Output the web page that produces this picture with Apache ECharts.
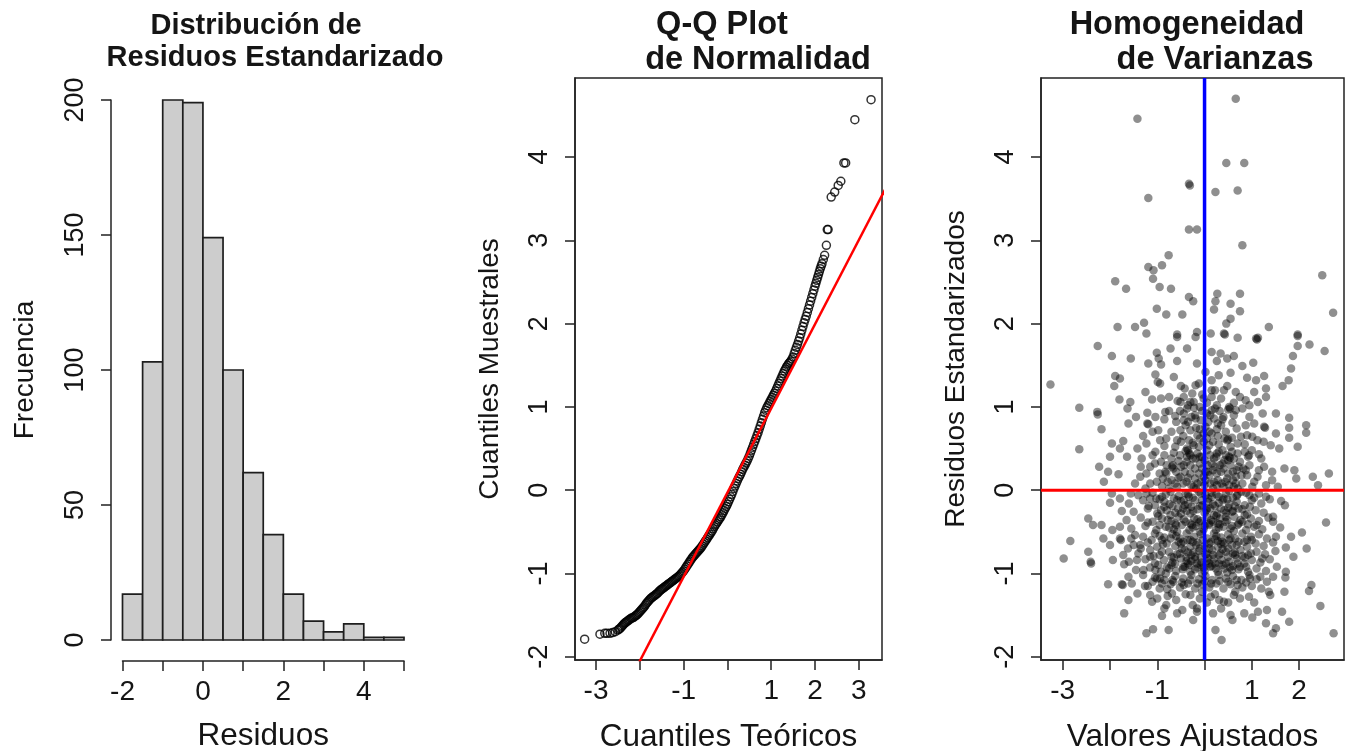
<!DOCTYPE html>
<html><head><meta charset="utf-8">
<script src="https://cdn.jsdelivr.net/npm/echarts@6.0.0/dist/echarts.min.js"></script>
<style>html,body{margin:0;padding:0;background:#fff}#c{width:1347px;height:751px}</style>
</head><body><div id="c"></div>
<script>
// ---------- DATA ----------
const histBreaks = [-2,-1.5,-1,-0.5,0,0.5,1,1.5,2,2.5,3,3.5,4,4.5,5];
const histCounts = [17,103,200,199,149,100,62,39,17,7,3,6,1,1];
const histXTicks = [-2,-1,0,1,2,3,4,5];
const histXLabels = [-2,0,2,4];
const histYTicks = [0,50,100,150,200];

const qqXTicks = [-3,-2,-1,0,1,2,3];
const qqXLabels = [-3,-1,1,2,3];
const residTicks = [-2,-1,0,1,2,3,4];
const fitXTicks = [-3,-2,-1,0,1,2];
const fitXLabels = [-3,-1,1,2];

// [theoretical quantile, sample quantile] read along the Q-Q band
const qqPoints = [
[-3.26,-1.79],[-2.91,-1.73],[-2.80,-1.72],[-2.75,-1.72],[-2.68,-1.72],[-2.62,-1.71],[-2.56,-1.70],
[-2.50,-1.68],[-2.475,-1.67],[-2.45,-1.66],[-2.425,-1.645],[-2.40,-1.63],[-2.375,-1.615],[-2.35,-1.60],[-2.325,-1.59],
[-2.30,-1.58],[-2.275,-1.57],[-2.25,-1.56],[-2.225,-1.55],[-2.20,-1.54],[-2.175,-1.535],[-2.15,-1.53],[-2.125,-1.52],
[-2.10,-1.51],[-2.075,-1.50],[-2.05,-1.49],[-2.025,-1.475],[-2.00,-1.46],[-1.975,-1.445],[-1.95,-1.43],[-1.925,-1.415],
[-1.90,-1.40],[-1.875,-1.38],[-1.85,-1.36],[-1.825,-1.345],[-1.80,-1.33],[-1.775,-1.315],[-1.75,-1.30],[-1.725,-1.29],
[-1.70,-1.28],[-1.675,-1.27],[-1.65,-1.26],[-1.625,-1.25],[-1.60,-1.24],[-1.575,-1.225],[-1.55,-1.21],[-1.525,-1.20],
[-1.50,-1.19],[-1.475,-1.18],[-1.45,-1.17],[-1.425,-1.16],[-1.40,-1.15],[-1.375,-1.14],[-1.35,-1.13],[-1.325,-1.12],
[-1.30,-1.11],[-1.275,-1.10],[-1.25,-1.09],[-1.225,-1.08],[-1.20,-1.07],[-1.175,-1.06],[-1.15,-1.05],[-1.125,-1.04],
[-1.10,-1.03],[-1.075,-1.015],[-1.05,-1.00],[-1.025,-0.985],[-1.00,-0.97],[-0.975,-0.95],[-0.95,-0.93],[-0.925,-0.91],
[-0.90,-0.89],[-0.875,-0.87],[-0.85,-0.85],[-0.825,-0.83],[-0.80,-0.81],[-0.775,-0.795],[-0.75,-0.78],[-0.725,-0.765],
[-0.70,-0.75],[-0.675,-0.735],[-0.65,-0.72],[-0.625,-0.705],[-0.60,-0.69],[-0.575,-0.67],[-0.55,-0.65],[-0.525,-0.63],
[-0.50,-0.61],[-0.475,-0.59],[-0.45,-0.57],[-0.425,-0.55],[-0.40,-0.53],[-0.375,-0.51],[-0.35,-0.49],[-0.325,-0.465],
[-0.30,-0.44],[-0.275,-0.42],[-0.25,-0.40],[-0.225,-0.38],[-0.20,-0.36],[-0.175,-0.34],[-0.15,-0.32],[-0.125,-0.295],
[-0.10,-0.27],[-0.075,-0.245],[-0.05,-0.22],[-0.025,-0.195],[0.00,-0.17],[0.025,-0.14],[0.05,-0.11],[0.075,-0.08],
[0.10,-0.05],[0.125,-0.015],[0.15,0.02],[0.175,0.05],[0.20,0.08],[0.225,0.11],[0.25,0.14],[0.275,0.165],
[0.30,0.19],[0.325,0.22],[0.35,0.25],[0.375,0.275],[0.40,0.30],[0.425,0.325],[0.45,0.35],[0.475,0.38],
[0.50,0.41],[0.525,0.445],[0.55,0.48],[0.575,0.515],[0.60,0.55],[0.625,0.585],[0.65,0.62],[0.675,0.655],
[0.70,0.69],[0.725,0.73],[0.75,0.77],[0.775,0.81],[0.80,0.85],[0.825,0.89],[0.85,0.93],[0.875,0.96],
[0.90,0.99],[0.925,1.015],[0.95,1.04],[0.975,1.065],[1.00,1.09],[1.025,1.115],[1.05,1.14],[1.075,1.165],
[1.10,1.19],[1.125,1.22],[1.15,1.25],[1.175,1.28],[1.20,1.31],[1.225,1.34],[1.25,1.37],[1.275,1.40],
[1.30,1.43],[1.325,1.455],[1.35,1.48],[1.375,1.50],[1.40,1.52],[1.425,1.535],[1.45,1.55],[1.475,1.575],
[1.50,1.60],[1.525,1.64],[1.55,1.68],[1.575,1.715],[1.60,1.75],[1.625,1.79],[1.65,1.83],[1.675,1.875],
[1.70,1.92],[1.725,1.965],[1.75,2.01],[1.775,2.05],[1.80,2.09],[1.825,2.135],[1.85,2.18],[1.875,2.225],
[1.90,2.27],[1.925,2.315],[1.95,2.36],[1.975,2.405],[2.00,2.45],[2.02,2.485],[2.04,2.52],[2.06,2.555],
[2.08,2.59],[2.10,2.625],[2.12,2.66],[2.14,2.69],[2.16,2.72],[2.19,2.77],[2.22,2.82],
[2.26,2.94],[2.28,3.13],[2.30,3.13],[2.37,3.52],[2.45,3.58],[2.53,3.66],[2.59,3.71],[2.66,3.93],
[2.70,3.93],[2.91,4.45],[3.28,4.69]
];
// reference line (qqline) end points
const qqLine = [[-3.6,-3.67],[3.6,3.61]];

// [fitted value, standardized residual]
const scatterPoints = [
[-1.42,4.46],[-0.33,3.68],[-0.31,3.66],[-1.19,3.51],[-0.33,3.13],[-0.16,3.13],[-0.76,2.82],[-1.19,2.68],[-1.08,2.64],[-0.90,2.70],
[-1.89,2.51],[-1.66,2.42],[-1.09,2.54],[-0.95,2.44],[-0.71,2.42],[-0.33,2.32],[-0.24,2.27],[-1.01,2.18],[-0.81,2.11],[-0.47,2.11],
[-1.84,1.96],[-1.47,1.96],[-1.28,2.01],[-1.23,1.88],[-0.16,1.90],[-0.58,1.87],
[0.66,4.70],[0.46,3.93],[0.84,3.93],[0.23,3.58],[0.70,3.60],[0.80,2.94],[2.49,2.58],[0.27,2.36],[0.75,2.36],[0.23,2.27],
[0.55,2.24],[0.20,2.17],[0.75,2.15],[2.72,2.13],[0.55,2.06],[0.46,2.00],[1.36,1.96],[0.41,1.88],[1.97,1.87],[0.13,1.88],
[-3.26,1.27],[-2.26,1.73],[-1.96,1.61],[-1.56,1.58],[-0.58,1.84],[-0.19,1.84],[-0.72,1.70],[-0.37,1.70],[-1.01,1.65],[-0.97,1.58],
[-1.19,1.52],[-0.92,1.51],[-0.58,1.55],[-0.16,1.52],[-1.89,1.37],[-1.79,1.34],[-1.04,1.39],[-0.94,1.28],[-0.99,1.30],[-1.91,1.25],
[-0.65,1.36],[-0.42,1.22],[-0.19,1.26],[-1.80,1.09],[-1.57,1.06],[-1.63,0.98],[-1.11,1.09],[-0.92,1.10],[-0.57,1.07],[-0.44,1.12],
[-2.65,0.99],[-2.27,0.94],[-2.26,0.91],[-1.21,0.93],[-1.04,0.88],[-0.83,0.94],[-0.62,0.89],[-0.37,0.98],[-0.23,1.06],[-1.61,0.80],
[-1.21,0.80],[-1.19,0.79],[-0.85,0.85],[-0.44,0.84],[-0.19,0.86],[-2.18,0.73],[-1.96,0.56],[-1.72,0.59],[-1.79,0.50],[-2.65,0.49],
[-1.23,0.56],[-1.42,0.50],[-0.94,0.60],[-0.81,0.62],[-0.58,0.60],[-0.37,0.50],[-0.35,0.48],[-0.23,0.54],[-0.51,0.72],[-0.30,0.72],
[-0.26,1.16],[-0.30,1.06],[-0.51,1.06],[-0.44,0.92],[-1.04,0.46],[-2.00,0.40],[-1.64,0.40],[-2.23,0.28],[-2.04,0.22],[-1.82,0.19],
[-2.13,0.10],[-1.33,0.38],[-1.15,0.28],[-1.36,0.16],[-1.47,0.08],[-0.92,0.34],[-0.83,0.22],[-0.81,0.20],[-0.69,0.28],[-0.67,0.30],
[-0.51,0.16],[-0.30,0.20],[-1.01,0.10],[-0.58,0.04],[-0.23,0.04],[-1.15,0.08],[-0.37,0.40],[-0.19,0.38],[-1.23,0.20],
[0.43,1.87],[0.70,1.83],[1.09,1.82],[1.13,1.83],[1.11,1.81],[1.97,1.85],[2.22,1.75],[2.54,1.67],[1.97,1.73],[0.15,1.66],
[0.34,1.64],[0.48,1.58],[0.62,1.61],[0.26,1.55],[0.80,1.49],[1.03,1.53],[1.87,1.61],[1.83,1.46],[0.55,1.41],[1.09,1.32],
[1.26,1.37],[1.78,1.32],[1.65,1.25],[0.15,1.32],[0.41,1.20],[0.66,1.18],[1.05,1.18],[1.30,1.22],[1.30,1.12],[0.87,1.08],
[1.13,1.06],[0.52,1.00],[0.54,0.98],[0.66,0.96],[0.80,0.98],[0.26,1.02],[0.15,1.12],[0.15,1.20],[1.23,0.92],[1.51,0.92],
[1.79,0.87],[2.15,0.78],[2.15,0.69],[1.79,0.75],[1.79,0.63],[1.51,0.68],[1.28,0.75],[1.26,0.76],[0.87,0.78],[0.59,0.81],
[0.38,0.85],[0.26,0.73],[1.01,0.64],[0.77,0.64],[0.48,0.60],[0.50,0.61],[1.40,0.54],[1.58,0.50],[1.97,0.52],[0.94,0.42],
[1.15,0.43],[0.52,0.40],[0.54,0.39],[0.26,0.44],[1.26,0.28],[1.43,0.22],[1.69,0.26],[1.90,0.24],[2.29,0.16],[2.63,0.20],
[1.94,0.14],[2.40,0.06],[0.87,0.24],[0.66,0.16],[0.26,0.20],[0.38,0.32],[1.43,0.12],[1.12,0.16],[0.70,0.02],[1.01,0.04],
[0.12,0.08],[0.12,0.90],[-0.10,1.00],[-0.10,0.73],[-0.10,0.40],
[-2.46,-0.34],[-2.36,-0.42],[-2.18,-0.42],[-2.84,-0.61],[-2.14,-0.58],[-1.79,-0.44],[-1.79,-0.58],[-1.77,-0.60],[-1.79,-0.10],[-1.96,-0.04],
[-1.56,-0.04],[-1.23,-0.04],[-2.98,-0.82],[-2.46,-0.74],[-2.41,-0.86],[-2.40,-0.88],[-1.94,-0.84],[-1.70,-0.89],[-2.04,-1.13],[-1.75,-1.13],
[-1.73,-1.14],[-1.61,-1.04],[-1.54,-1.12],[-1.61,-1.32],[-1.42,-1.24],[-1.26,-1.15],[-1.15,-1.26],[-1.11,-1.34],[-1.70,-1.48],[-1.23,-1.72],
[-1.09,-1.67],[-0.76,-1.68],[-0.90,-1.51],[-0.81,-1.38],[-0.58,-1.48],[-0.47,-1.44],[-0.24,-1.56],[-0.16,-1.42],[-0.30,-1.26],[-0.69,-1.24],
[-0.79,-1.19],[-0.94,-1.06],[-0.66,-1.10],[-0.44,-1.14],[-1.72,-0.78],[-1.62,-0.70],[-1.47,-0.54],[-1.36,-0.66],[-1.43,-0.84],[-1.29,-0.96],
[-1.15,-0.80],[-1.04,-0.96],[-1.01,-1.06],
[2.57,-0.39],[2.06,-0.51],[1.83,-0.56],[2.16,-0.70],[1.88,-0.80],[1.72,-0.69],[1.51,-0.56],[1.45,-0.38],[1.45,-0.32],[1.62,-0.13],
[1.38,-0.11],[2.26,-1.14],[2.21,-1.21],[2.45,-1.39],[2.73,-1.72],[1.71,-1.05],[1.69,-1.22],[1.36,-1.22],[1.39,-1.26],[0.94,-1.28],
[0.62,-1.26],[0.41,-1.34],[0.13,-1.28],[1.64,-1.46],[1.79,-1.58],[1.30,-1.60],[1.13,-1.46],[1.32,-1.44],[0.84,-1.48],[1.01,-1.53],
[1.51,-1.66],[1.45,-1.72],[0.55,-1.50],[0.59,-1.56],[0.23,-1.68],[0.36,-1.80],[1.72,-0.98],[1.53,-0.92],[1.18,-1.04],[1.32,-1.10],
[0.96,-1.06],[0.70,-1.14],[0.31,-1.32],[-0.16,-1.46],
[-0.05,0.95],[0.08,0.82],[-0.15,0.66],[0.18,0.58],[-0.28,0.88],[0.32,0.95],[-0.62,0.52],[0.45,0.70],[-0.12,0.52],[0.05,0.62],
[0.22,0.98],[-0.40,0.78],[0.62,0.90],[-0.70,0.70],[0.95,0.88],[-0.98,0.72],[1.12,0.60],[0.30,0.55],[-0.22,0.99],[0.55,0.52],
[-1.30,0.65],[0.02,0.76],[-0.52,0.95],[0.70,0.56],[-0.85,0.53],[0.40,0.88],[0.15,0.68],[-0.33,0.60],[1.25,0.58],[-0.08,0.84],
[0.85,0.55],[-1.10,0.70],[0.20,0.86],[-0.60,0.82],[0.50,0.97],[-0.18,0.75],[1.05,0.80],[0.10,0.54],[-0.45,0.65],[0.35,0.78],
[-0.02,0.58],[0.68,0.74],[-0.75,0.95],[0.28,0.65],[-1.45,0.88],[0.90,0.66],[-0.25,0.57],[0.58,0.63],
[-0.90,0.05],[-0.70,0.12],[-0.45,0.08],[-0.20,0.14],[0.00,0.06],[0.20,0.10],[0.40,0.04],[0.60,0.12],[0.80,0.08],[1.05,0.10],
[-0.80,0.30],[-0.55,0.35],[-0.30,0.30],[-0.05,0.26],[0.15,0.32],[0.35,0.22],[0.55,0.30],[0.75,0.34],[0.95,0.30],[1.20,0.38],
[-1.10,0.42],[-0.65,0.45],[-0.40,0.47],[-0.15,0.44],[0.05,0.48],[0.30,0.46],[0.45,0.42],[0.70,0.44],[1.00,0.48],[-1.25,0.02],
[-0.95,0.20],[-0.60,0.22],[-0.35,0.15],[-0.12,0.20],[0.10,0.18],[0.28,0.12],[0.50,0.20],[0.68,0.24],[0.90,0.18],[1.30,0.06],
[-0.75,0.02],[-0.50,0.28],[-0.25,0.38],[0.00,0.36],[0.22,0.28],[0.42,0.36],[0.62,0.04],[0.85,0.46],[1.15,0.24],[-1.05,0.32],
[-0.85,0.42],[-0.42,0.22],[-0.08,0.10],[0.12,0.42],[0.36,0.08],[0.58,0.46],[0.78,0.18],[-0.62,0.08],[-0.28,0.06],[0.06,0.30],
[0.25,0.40],[0.48,0.14],[0.72,0.28],[-0.18,0.02],[-0.52,0.42],[0.32,0.30],[-0.02,0.16],[0.18,0.02],[-0.38,0.34],[0.52,0.06],
[-0.88,0.14],[0.92,0.40],[-0.70,0.38],[0.38,0.48],[-0.10,0.32],[0.62,0.38],[-1.35,0.28],[1.55,0.04],[-0.32,0.44],[0.08,0.22],
[-1.40,-0.06],[-1.10,-0.03],[-0.90,-0.08],[-0.72,-0.02],[-0.55,-0.07],[-0.40,-0.04],[-0.25,-0.09],[-0.12,-0.02],[0.02,-0.06],[0.15,-0.03],
[0.30,-0.08],[0.45,-0.04],[0.60,-0.09],[0.78,-0.02],[0.95,-0.06],[1.15,-0.04],[1.30,-0.08],[-0.65,-0.10],[0.52,-0.01],
[-1.60,-0.16],[-1.30,-0.12],[-1.05,-0.18],[-0.85,-0.14],[-0.68,-0.19],[-0.50,-0.13],[-0.35,-0.17],[-0.20,-0.12],[-0.05,-0.18],[0.08,-0.14],
[0.22,-0.19],[0.38,-0.12],[0.52,-0.17],[0.68,-0.14],[0.85,-0.18],[1.00,-0.12],[1.20,-0.16],[-0.95,-0.11],[0.30,-0.15],[-0.28,-0.20],
[1.70,-0.18],[-2.00,-0.15],
[-1.50,-0.26],[-1.20,-0.22],[-1.00,-0.28],[-0.80,-0.24],[-0.62,-0.27],[-0.45,-0.22],[-0.30,-0.28],[-0.15,-0.23],[0.00,-0.27],[0.12,-0.22],
[0.27,-0.28],[0.42,-0.24],[0.58,-0.26],[0.72,-0.22],[0.90,-0.29],[1.08,-0.24],[1.25,-0.27],[-0.72,-0.30],[0.20,-0.30],[-0.38,-0.25],
[0.50,-0.21],[-1.75,-0.25],
[-1.65,-0.36],[-1.35,-0.33],[-1.10,-0.38],[-0.90,-0.34],[-0.70,-0.37],[-0.55,-0.32],[-0.40,-0.38],[-0.22,-0.34],[-0.08,-0.37],[0.05,-0.32],
[0.18,-0.38],[0.33,-0.34],[0.48,-0.36],[0.63,-0.32],[0.80,-0.38],[0.98,-0.34],[1.15,-0.37],[1.35,-0.33],[-0.30,-0.40],[0.25,-0.31],
[-0.98,-0.31],[0.72,-0.40],
[-1.55,-0.46],[-1.25,-0.43],[-1.02,-0.48],[-0.82,-0.44],[-0.65,-0.47],[-0.48,-0.42],[-0.32,-0.48],[-0.18,-0.43],[-0.02,-0.47],[0.10,-0.42],
[0.24,-0.48],[0.40,-0.44],[0.55,-0.46],[0.70,-0.42],[0.88,-0.48],[1.05,-0.44],[1.22,-0.47],[1.60,-0.45],[-0.58,-0.50],[0.32,-0.41],
[-0.10,-0.50],[0.62,-0.49],[-1.95,-0.48],
[-0.44,-0.12],[0.10,-0.40],[-0.60,-0.42],[0.40,-0.10],[-0.15,-0.35],[0.60,-0.25],[-0.85,-0.20],[0.15,-0.08],[-0.25,-0.45],[0.85,-0.30],
[-0.50,-0.28],[0.30,-0.45],[-1.15,-0.10],[1.10,-0.42],[-0.05,-0.12],[0.45,-0.32],[-0.75,-0.45],[0.05,-0.22],[-0.35,-0.05],[0.70,-0.05],
[-1.30,-0.56],[-1.05,-0.52],[-0.85,-0.57],[-0.68,-0.53],[-0.52,-0.58],[-0.38,-0.52],[-0.22,-0.56],[-0.08,-0.53],[0.06,-0.58],[0.20,-0.52],
[0.35,-0.57],[0.50,-0.53],[0.65,-0.58],[0.80,-0.52],[0.98,-0.56],[1.15,-0.53],[1.32,-0.58],[-1.55,-0.58],[-0.30,-0.60],[0.28,-0.61],
[-1.50,-0.66],[-1.20,-0.63],[-1.00,-0.68],[-0.80,-0.64],[-0.62,-0.67],[-0.45,-0.62],[-0.30,-0.68],[-0.15,-0.63],[0.00,-0.67],[0.14,-0.62],
[0.28,-0.68],[0.42,-0.64],[0.58,-0.66],[0.72,-0.62],[0.90,-0.68],[1.08,-0.64],[1.25,-0.67],[1.45,-0.63],[-0.90,-0.60],[0.50,-0.70],
[-2.00,-0.66],
[-1.40,-0.76],[-1.15,-0.72],[-0.95,-0.78],[-0.75,-0.74],[-0.58,-0.77],[-0.42,-0.72],[-0.28,-0.78],[-0.12,-0.73],[0.02,-0.77],[0.16,-0.72],
[0.30,-0.78],[0.45,-0.74],[0.60,-0.76],[0.76,-0.72],[0.92,-0.78],[1.10,-0.74],[1.28,-0.77],[1.50,-0.73],[-0.20,-0.80],[0.38,-0.71],
[-0.65,-0.81],[0.85,-0.81],
[-1.60,-0.86],[-1.25,-0.83],[-1.05,-0.88],[-0.86,-0.84],[-0.68,-0.87],[-0.50,-0.82],[-0.35,-0.88],[-0.20,-0.83],[-0.06,-0.87],[0.08,-0.82],
[0.22,-0.88],[0.36,-0.84],[0.52,-0.86],[0.68,-0.82],[0.84,-0.88],[1.00,-0.84],[1.18,-0.87],[1.38,-0.83],[-0.42,-0.92],[0.15,-0.91],
[-0.28,-0.85],[0.60,-0.91],
[-1.45,-0.96],[-1.15,-0.93],[-0.92,-0.98],[-0.75,-0.94],[-0.60,-0.97],[-0.45,-0.92],[-0.30,-0.98],[-0.15,-0.93],[0.00,-0.97],[0.12,-0.92],
[0.28,-0.98],[0.42,-0.94],[0.58,-0.96],[0.75,-0.92],[0.92,-0.98],[1.10,-0.94],[1.30,-0.97],[-0.05,-1.00],[0.48,-0.99],[-0.82,-1.00],
[-0.55,-0.62],[0.25,-0.55],[-0.10,-0.70],[0.65,-0.78],[-0.95,-0.55],[0.45,-0.88],[-0.35,-0.75],[0.05,-0.85],[-0.70,-0.90],[0.90,-0.60],
[-0.20,-0.95],[0.35,-0.65],[-0.48,-0.70],[0.18,-0.78],[1.22,-0.82],[-1.35,-0.70],[0.72,-0.95],[-0.25,-0.62],[0.55,-0.58],[-0.08,-0.90],
[-0.60,-0.55],[0.10,-0.70],[-0.38,-0.85],[0.30,-0.88],
[-1.30,-1.02],[-1.05,-1.05],[-0.85,-1.08],[-0.62,-1.03],[-0.45,-1.06],[-0.28,-1.02],[-0.12,-1.07],[0.02,-1.03],[0.16,-1.08],[0.30,-1.02],
[0.45,-1.06],[0.60,-1.03],[0.78,-1.08],[0.95,-1.02],[1.10,-1.07],[1.45,-1.04],[-1.20,-1.15],[-0.95,-1.18],[-0.72,-1.13],[-0.52,-1.17],
[-0.35,-1.12],[-0.20,-1.18],[-0.05,-1.13],[0.10,-1.17],[0.25,-1.12],[0.40,-1.18],[0.55,-1.13],[0.80,-1.17],[1.00,-1.15],[1.20,-1.18],
[-1.00,-1.30],[-0.60,-1.32],[-0.40,-1.25],[-0.10,-1.30],[0.05,-1.35],[0.22,-1.25],[0.50,-1.35],[0.75,-1.30],[1.05,-1.35],[-0.25,-1.38],
[0.35,-1.42],[-0.85,-1.42],[0.18,-1.48],[-0.05,-1.22],[-0.78,-1.27],[0.65,-1.22],
[-0.05,1.15],[0.05,1.05],[-0.35,1.02],[0.35,1.10],[0.62,1.05],[0.75,1.12],[0.95,1.02],[-0.12,1.28],[0.30,1.38],[-0.50,1.25],
[0.48,1.25],[-0.75,1.12],[0.02,1.42],[-1.25,1.18],[0.90,1.35],[-0.02,1.10],[0.22,1.20],
[-1.02,-0.10],[-0.82,-0.05],[-0.58,-0.12],[-0.33,-0.08],[-0.08,-0.04],[0.08,-0.10],[0.25,-0.05],[0.48,-0.11],[0.68,-0.07],[0.88,-0.03],[1.05,-0.09],
[-1.18,-0.19],[-0.92,-0.24],[-0.74,-0.17],[-0.56,-0.22],[-0.42,-0.18],[-0.24,-0.25],[-0.10,-0.19],[0.04,-0.24],[0.18,-0.17],[0.34,-0.22],
[0.46,-0.27],[0.64,-0.19],[0.80,-0.23],[0.96,-0.20],
[-1.20,-0.39],[-0.95,-0.42],[-0.78,-0.36],[-0.62,-0.40],[-0.44,-0.35],[-0.27,-0.42],[-0.12,-0.39],[0.00,-0.43],[0.14,-0.36],[0.28,-0.40],
[0.44,-0.38],[0.58,-0.43],[0.76,-0.36],[0.92,-0.41],
[-1.12,-0.60],[-0.88,-0.65],[-0.72,-0.58],[-0.50,-0.64],[-0.36,-0.60],[-0.18,-0.66],[-0.04,-0.60],[0.10,-0.64],[0.22,-0.59],[0.38,-0.62],
[0.52,-0.60],[0.68,-0.66],[0.84,-0.62],[1.00,-0.60],
[-1.08,-0.79],[-0.90,-0.74],[-0.70,-0.80],[-0.52,-0.76],[-0.38,-0.81],[-0.24,-0.75],[-0.08,-0.80],[0.06,-0.76],[0.20,-0.82],[0.34,-0.76],
[0.50,-0.80],[0.64,-0.75],[0.80,-0.79],[0.98,-0.76],
[-0.98,-0.90],[-0.80,-0.93],[-0.62,-0.88],[-0.46,-0.95],[-0.32,-0.90],[-0.16,-0.88],[-0.02,-0.93],[0.10,-0.88],[0.24,-0.94],[0.38,-0.90],
[0.54,-0.93],[0.70,-0.88],[0.88,-0.92],
[-1.10,-1.10],[-0.90,-1.12],[-0.68,-1.08],[-0.48,-1.11],[-0.30,-1.08],[-0.15,-1.12],[0.00,-1.09],[0.14,-1.12],[0.32,-1.09],[0.50,-1.10],
[0.68,-1.08],[0.88,-1.11],
[-0.78,0.10],[-0.55,0.15],[-0.38,0.10],[-0.15,0.08],[0.02,0.12],[0.26,0.06],[0.44,0.10],[0.66,0.08],[-0.66,0.26],[-0.44,0.30],
[-0.20,0.26],[0.02,0.22],[0.18,0.24],[0.40,0.26],[0.60,0.22],[0.82,0.26],[-0.30,0.42],[-0.06,0.40],[0.20,0.38],[0.50,0.36],
[-0.35,0.82],[-0.10,0.62],[0.10,0.70],[0.28,0.80],[-0.20,0.90],[0.05,0.92],[0.42,0.62],[-0.50,0.58],[0.15,0.96],[-0.02,0.68]
];
const hLineY = 0;   // red horizontal reference
const vLineX = 0;   // blue vertical reference

// ---------- STYLE ----------
const FONT = "'Liberation Sans', Arial, Helvetica, sans-serif";
const TXT = '#151515';
const AX = '#222';

function xAxisCfg(gridIndex, min, max, ticks, labels, name, nameGap, offset) {
  return {
    type: 'value', gridIndex, min, max, offset: offset || 0,
    name, nameLocation: 'middle', nameGap,
    nameTextStyle: {fontFamily: FONT, fontSize: 31.5, color: TXT},
    axisLine: {show: true, onZero: false, lineStyle: {color: AX, width: 1.5}},
    axisTick: {show: true, inside: false, length: 10, customValues: ticks, lineStyle: {color: AX, width: 1.5}},
    axisLabel: {show: true, customValues: labels, margin: 17, fontFamily: FONT, fontSize: 28, color: TXT,
                formatter: v => String(v)},
    splitLine: {show: false}
  };
}
function yAxisCfg(gridIndex, min, max, ticks, labels, name, nameGap, offset) {
  return {
    type: 'value', gridIndex, min, max, offset: offset || 0,
    name, nameLocation: 'middle', nameGap, nameRotate: 90,
    nameTextStyle: {fontFamily: FONT, fontSize: 28, color: TXT},
    axisLine: {show: true, onZero: false, lineStyle: {color: AX, width: 1.5}},
    axisTick: {show: true, inside: false, length: 10, customValues: ticks, lineStyle: {color: AX, width: 1.5}},
    axisLabel: {show: true, customValues: labels, rotate: 90, margin: 22, fontFamily: FONT, fontSize: 27, color: TXT,
                formatter: v => String(v)},
    splitLine: {show: false}
  };
}

const histData = histCounts.map((c, i) => [histBreaks[i], histBreaks[i + 1], c]);
const titleFont1 = 'bold 29px ' + FONT;
const titleFont2 = 'bold 32.5px ' + FONT;

const option = {
  animation: false,
  backgroundColor: '#ffffff',
  grid: [
    {left: 122.5, top: 100, width: 281.5, height: 540, show: false, containLabel: false, outerBoundsMode: 'none'},
    {left: 575, top: 78, width: 307, height: 582, show: true, borderColor: AX, borderWidth: 1.5, backgroundColor: 'transparent', containLabel: false, outerBoundsMode: 'none'},
    {left: 1041, top: 78, width: 303, height: 582, show: true, borderColor: AX, borderWidth: 1.5, backgroundColor: 'transparent', containLabel: false, outerBoundsMode: 'none'}
  ],
  xAxis: [
    xAxisCfg(0, -2, 5, histXTicks, histXLabels, 'Residuos', 59, 21),
    xAxisCfg(1, -3.48, 3.53, qqXTicks, qqXLabels, 'Cuantiles Teóricos', 61, 0),
    xAxisCfg(2, -3.46, 2.95, fitXTicks, fitXLabels, 'Valores Ajustados', 61, 0)
  ],
  yAxis: [
    yAxisCfg(0, 0, 200, histYTicks, histYTicks, 'Frecuencia', 72, 11.5),
    yAxisCfg(1, -2.04, 4.95, residTicks, residTicks, 'Cuantiles Muestrales', 71, 0),
    yAxisCfg(2, -2.04, 4.95, residTicks, residTicks, 'Residuos Estandarizados', 71, 0)
  ],
  graphic: [
    {type: 'text', x: 256, y: 26, style: {text: 'Distribución de', font: titleFont1, fill: TXT, align: 'center', verticalAlign: 'middle'}},
    {type: 'text', x: 275, y: 58, style: {text: 'Residuos Estandarizado', font: titleFont1, fill: TXT, align: 'center', verticalAlign: 'middle'}},
    {type: 'text', x: 722, y: 25, style: {text: 'Q-Q Plot', font: titleFont2, fill: TXT, align: 'center', verticalAlign: 'middle'}},
    {type: 'text', x: 758, y: 60, style: {text: 'de Normalidad', font: titleFont2, fill: TXT, align: 'center', verticalAlign: 'middle'}},
    {type: 'text', x: 1187, y: 25, style: {text: 'Homogeneidad', font: titleFont2, fill: TXT, align: 'center', verticalAlign: 'middle'}},
    {type: 'text', x: 1215, y: 60, style: {text: 'de Varianzas', font: titleFont2, fill: TXT, align: 'center', verticalAlign: 'middle'}}
  ],
  series: [
    {
      type: 'custom', xAxisIndex: 0, yAxisIndex: 0, data: histData,
      encode: {x: [0, 1], y: 2},
      renderItem: function (params, api) {
        const p0 = api.coord([api.value(0), api.value(2)]);
        const p1 = api.coord([api.value(1), 0]);
        return {type: 'rect', shape: {x: p0[0], y: p0[1], width: p1[0] - p0[0], height: p1[1] - p0[1]},
                style: {fill: '#cdcdcd', stroke: '#1e1e1e', lineWidth: 1.7}};
      }
    },
    {
      type: 'scatter', xAxisIndex: 1, yAxisIndex: 1, data: qqPoints,
      symbol: 'circle', symbolSize: 8,
      itemStyle: {color: 'rgba(0,0,0,0)', borderColor: '#000', borderWidth: 1.5}, z: 2
    },
    {
      type: 'line', xAxisIndex: 1, yAxisIndex: 1, data: qqLine, showSymbol: false, clip: true,
      lineStyle: {color: '#ff0000', width: 2.5}, z: 3
    },
    {
      type: 'scatter', xAxisIndex: 2, yAxisIndex: 2, data: scatterPoints,
      symbol: 'circle', symbolSize: 8.5,
      itemStyle: {color: 'rgba(0,0,0,0.55)'}, z: 2
    },
    {
      type: 'line', xAxisIndex: 2, yAxisIndex: 2, data: [[-3.46, hLineY], [2.95, hLineY]], showSymbol: false,
      lineStyle: {color: '#ff0000', width: 3}, z: 3
    },
    {
      type: 'line', xAxisIndex: 2, yAxisIndex: 2, data: [[vLineX, -2.04], [vLineX, 4.95]], showSymbol: false,
      lineStyle: {color: '#0000ff', width: 3.5}, z: 4
    }
  ]
};
const chart = echarts.init(document.getElementById('c'), null, {renderer: 'canvas'});
chart.setOption(option);
</script>
</body></html>
